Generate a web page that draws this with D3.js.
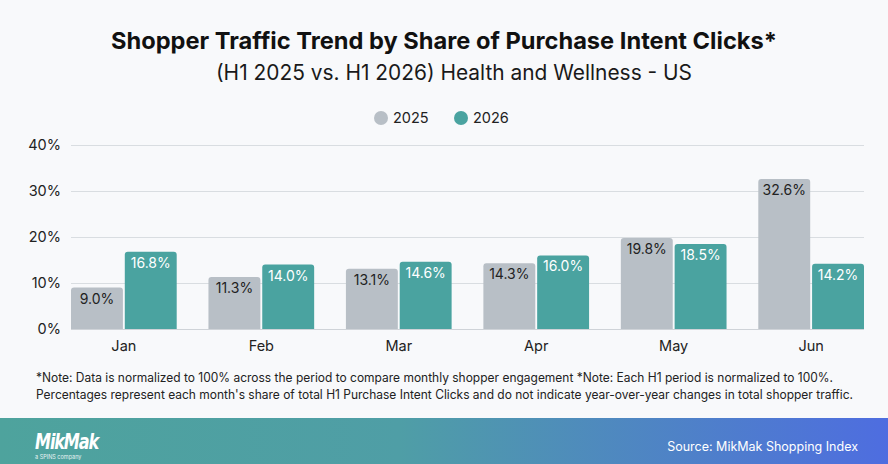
<!DOCTYPE html>
<html><head><meta charset="utf-8">
<script src="https://cdn.jsdelivr.net/npm/d3@7/dist/d3.min.js"></script>
<style>
html,body{margin:0;padding:0;background:#f8f9fb;}
svg{display:block;font-family:Inter,"Noto Sans",sans-serif;}
</style></head>
<body><svg id="c" width="888" height="464"></svg>
<script>
const months = ["Jan","Feb","Mar","Apr","May","Jun"];
const seriesNames = ["2025","2026"];
const values2025 = [9.0,11.3,13.1,14.3,19.8,32.6];
const values2026 = [16.8,14.0,14.6,16.0,18.5,14.2];
const yTicks = [0,10,20,30,40];
const colors = ["#b8bfc6","#4aa3a0"];

const svg = d3.select("#c");
const W = 888, H = 464;
const m = {left:71, right:24, top:145, bottom:135};

svg.append("rect").attr("width",W).attr("height",H).attr("fill","#f8f9fb");

// title
svg.append("text").attr("x",444).attr("y",48.5).attr("text-anchor","middle")
  .attr("font-size",23.5).attr("font-weight",700).attr("fill","#111")
  .attr("textLength",666).attr("lengthAdjust","spacingAndGlyphs")
  .text("Shopper Traffic Trend by Share of Purchase Intent Clicks*");
svg.append("text").attr("x",454).attr("y",80).attr("text-anchor","middle")
  .attr("font-size",21).attr("fill","#1a1a1a")
  .attr("textLength",476).attr("lengthAdjust","spacingAndGlyphs")
  .text("(H1 2025 vs. H1 2026) Health and Wellness - US");

// legend
const lg = svg.append("g");
const legX = [381, 461];
seriesNames.forEach((s,i)=>{
  lg.append("circle").attr("cx",legX[i]).attr("cy",118).attr("r",7).attr("fill",colors[i]);
  lg.append("text").attr("x",legX[i]+12).attr("y",123).attr("font-size",14.5).attr("fill","#222").text(s);
});

const x = d3.scaleBand().domain(months).range([m.left, W-m.right]).paddingInner(0.231).paddingOuter(0);
const xs = d3.scaleBand().domain(seriesNames).range([0, x.bandwidth()]).paddingInner(0.035);
const y = d3.scaleLinear().domain([0,40]).range([329,145]);

// grid
const gy = svg.append("g").attr("transform",`translate(${m.left},0)`)
  .call(d3.axisLeft(y).tickValues(yTicks).tickSize(-(W-m.right-m.left)).tickFormat(d=>d+"%").tickPadding(10));
gy.select(".domain").remove();
gy.selectAll(".tick line").attr("stroke",d=>d===0?"#cfd3d8":"#d9dde1").attr("stroke-width",1.2);
gy.selectAll(".tick text").attr("font-size",14.5).attr("fill","#222").attr("font-family","Inter,sans-serif");

function topRounded(x0,y0,w,h,r){
  r=Math.min(r,h,w/2);
  return `M${x0},${y0+h}V${y0+r}Q${x0},${y0} ${x0+r},${y0}H${x0+w-r}Q${x0+w},${y0} ${x0+w},${y0+r}V${y0+h}Z`;
}

const data = months.map((mo,i)=>({month:mo, vals:[values2025[i], values2026[i]]}));
const g = svg.append("g");
data.forEach(d=>{
  d.vals.forEach((v,j)=>{
    const bx = x(d.month)+xs(seriesNames[j]);
    const by = y(v);
    g.append("path").attr("d",topRounded(bx,by,xs.bandwidth(),y(0)-by,3)).attr("fill",colors[j]);
    g.append("text").attr("x",bx+xs.bandwidth()/2).attr("y",by+16).attr("text-anchor","middle")
      .attr("font-size",14).attr("fill",j===0?"#222":"#fff").text(v.toFixed(1)+"%");
  });
});

// x axis labels
const gx = svg.append("g").attr("transform",`translate(0,329)`)
  .call(d3.axisBottom(x).tickSize(0).tickPadding(12));
gx.select(".domain").remove();
gx.selectAll(".tick text").attr("font-size",14.5).attr("fill","#222").attr("font-family","Inter,sans-serif");

// notes
const notes = ["*Note: Data is normalized to 100% across the period to compare monthly shopper engagement *Note: Each H1 period is normalized to 100%.",
"Percentages represent each month's share of total H1 Purchase Intent Clicks and do not indicate year-over-year changes in total shopper traffic."];
svg.append("text").attr("x",36).attr("y",382).attr("font-size",12.5).attr("fill","#222").attr("textLength",797).attr("lengthAdjust","spacingAndGlyphs").text(notes[0]);
svg.append("text").attr("x",36).attr("y",399).attr("font-size",12.5).attr("fill","#222").attr("textLength",817).attr("lengthAdjust","spacingAndGlyphs").text(notes[1]);

// footer
const defs = svg.append("defs");
const gr = defs.append("linearGradient").attr("id","fg").attr("x1","0").attr("x2","1").attr("y1","0").attr("y2","0");
gr.append("stop").attr("offset","0").attr("stop-color","#4ea39d");
gr.append("stop").attr("offset","0.45").attr("stop-color","#4f9ea6");
gr.append("stop").attr("offset","1").attr("stop-color","#4e6de0");
svg.append("rect").attr("x",0).attr("y",418).attr("width",W).attr("height",46).attr("fill","url(#fg)");
svg.append("text").attr("x",35).attr("y",449).attr("font-size",21).attr("font-weight",700).attr("font-style","italic")
  .attr("fill","#fff").attr("font-family","'DejaVu Sans',sans-serif").attr("letter-spacing","-1.5").attr("textLength",63).attr("lengthAdjust","spacingAndGlyphs").text("MikMak");
svg.append("text").attr("x",35).attr("y",459).attr("font-size",5.5).attr("fill","#e8f3f3").text("a SPINS company");
svg.append("text").attr("x",858).attr("y",451).attr("text-anchor","end").attr("font-size",12.5).attr("fill","#fff").text("Source: MikMak Shopping Index");
</script></body></html>
